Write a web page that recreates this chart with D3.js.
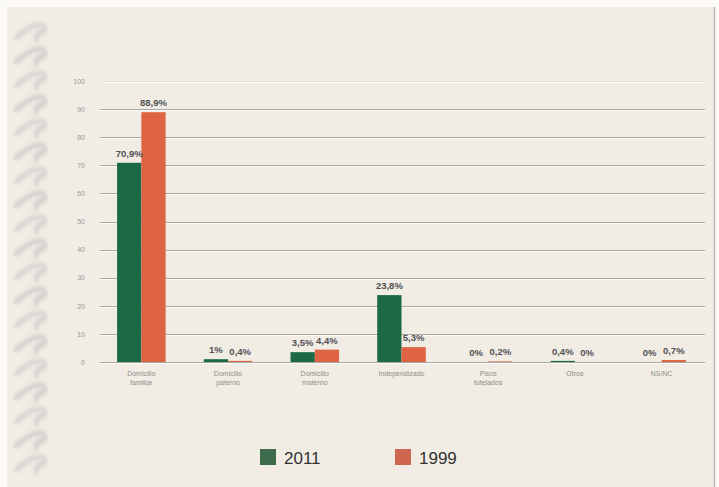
<!DOCTYPE html>
<html>
<head>
<meta charset="utf-8">
<script src="https://cdn.jsdelivr.net/npm/d3@7"></script>
<style>
  html, body { margin: 0; padding: 0; background: #fbfaf7; }
  svg { display: block; }
</style>
</head>
<body>
<svg id="chart" width="719" height="487"></svg>
<script>
// Dónde viven los jóvenes: 2011 frente a 1999 (%)
const categories = [
  ["Domicilio", "familiar"],
  ["Domicilio", "paterno"],
  ["Domicilio", "materno"],
  ["Independizado"],
  ["Pisos", "tutelados"],
  ["Otros"],
  ["NS/NC"]
];
const series = ["2011", "1999"];
const values2011 = [70.9, 1, 3.5, 23.8, 0, 0.4, 0];
const values1999 = [88.9, 0.4, 4.4, 5.3, 0.2, 0, 0.7];
const labels2011 = ["70,9%", "1%", "3,5%", "23,8%", "0%", "0,4%", "0%"];
const labels1999 = ["88,9%", "0,4%", "4,4%", "5,3%", "0,2%", "0%", "0,7%"];
const yTicks = [0, 10, 20, 30, 40, 50, 60, 70, 80, 90, 100];
const colors = { "2011": "#1b6a44", "1999": "#df6444" };
const legendColors = { "2011": "#3e6b4c", "1999": "#cf6650" };

const svg = d3.select("#chart");
const W = 719, H = 487;

// paper sheet
const defs = svg.append("defs");
defs.append("filter").attr("id", "soft")
  .append("feGaussianBlur").attr("stdDeviation", 2);
svg.append("rect").attr("x", 7).attr("y", 7).attr("width", 707).attr("height", 480)
  .attr("fill", "#f1ede5");
svg.append("line").attr("x1", 714.5).attr("x2", 714.5).attr("y1", 7).attr("y2", H)
  .attr("stroke", "#b9b6b0").attr("stroke-width", 1.5);

// spiral binding on the left edge
const ringY = d3.range(30, 480, 24);
const rings = svg.append("g").attr("filter", "url(#soft)");
ringY.forEach((y, i) => {
  rings.append("path")
    .attr("d", `M16,${y + 8} C24,${y} 32,${y - 6} 42,${y - 5} C47,${y - 3} 45,${y + 4} 40,${y + 3} C37,${y + 3} 36,${y + 7} 36,${y + 11}`)
    .attr("fill", "none")
    .attr("stroke", i % 2 ? "#a4a4aa" : "#acacb2")
    .attr("stroke-width", 4)
    .attr("stroke-linecap", "round")
    .attr("opacity", 0.5);
});

// plot scales
const x0 = d3.scaleBand().domain(d3.range(categories.length))
  .range([98, 705]).paddingInner(0.44).paddingOuter(0.22);
const x1 = d3.scaleBand().domain(series).range([0, x0.bandwidth()]);
const y = d3.scaleLinear().domain([0, 100]).range([362, 81]);

// gridlines
const grid = svg.append("g");
yTicks.forEach(t => {
  const yy = Math.round(y(t)) + 0.5;
  grid.append("line").attr("x1", 100).attr("x2", 705).attr("y1", yy).attr("y2", yy)
    .attr("stroke", t === 100 ? "#e6e3dc" : "#a9a8a4").attr("stroke-width", 1);
  grid.append("line").attr("x1", 100).attr("x2", 705).attr("y1", yy + 1).attr("y2", yy + 1)
    .attr("stroke", "#fbfaf8").attr("stroke-width", 1);
});

// y axis labels
const yAxis = d3.axisLeft(y).tickValues(yTicks).tickSize(0).tickPadding(0);
const ya = svg.append("g").attr("transform", "translate(85,0)").call(yAxis);
ya.select(".domain").remove();
ya.selectAll("text").attr("font-family", "Liberation Sans, Arial, sans-serif")
  .attr("font-size", 7).attr("fill", "#9b9994");

// bars
const data = categories.map((c, i) => ({
  i,
  bars: [
    { s: "2011", v: values2011[i], label: labels2011[i] },
    { s: "1999", v: values1999[i], label: labels1999[i] }
  ]
}));
const groups = svg.append("g").selectAll("g").data(data).join("g")
  .attr("transform", d => `translate(${x0(d.i)},0)`);
groups.selectAll("rect").data(d => d.bars).join("rect")
  .attr("x", d => x1(d.s))
  .attr("y", d => y(d.v))
  .attr("width", x1.bandwidth())
  .attr("height", d => y(0) - y(d.v))
  .attr("fill", d => colors[d.s]);
groups.selectAll("text.val").data(d => d.bars).join("text").attr("class", "val")
  .attr("x", d => x1(d.s) + x1.bandwidth() / 2)
  .attr("y", d => y(d.v) - 6)
  .attr("text-anchor", "middle")
  .attr("font-family", "Liberation Sans, Arial, sans-serif")
  .attr("font-size", 9.5).attr("font-weight", "bold")
  .attr("fill", "#505054")
  .text(d => d.label);

// category labels
const cat = svg.append("g").selectAll("text").data(categories).join("text")
  .attr("x", (d, i) => x0(i) + x0.bandwidth() / 2)
  .attr("y", 376)
  .attr("text-anchor", "middle")
  .attr("font-family", "Liberation Sans, Arial, sans-serif")
  .attr("font-size", 7).attr("fill", "#8e8c88");
cat.selectAll("tspan").data(d => d).join("tspan")
  .attr("x", function () { return d3.select(this.parentNode).attr("x"); })
  .attr("dy", (d, j) => j === 0 ? 0 : 9)
  .text(d => d);

// legend
const legendX = [260, 395];
const lg = svg.append("g").selectAll("g").data(series).join("g")
  .attr("transform", (d, i) => `translate(${legendX[i]},449)`);
lg.append("rect").attr("width", 16).attr("height", 16).attr("fill", d => legendColors[d]);
lg.append("text").attr("x", 24).attr("y", 15)
  .attr("font-family", "Liberation Sans, Arial, sans-serif")
  .attr("font-size", 17).attr("fill", "#333")
  .text(d => d);
</script>
</body>
</html>
